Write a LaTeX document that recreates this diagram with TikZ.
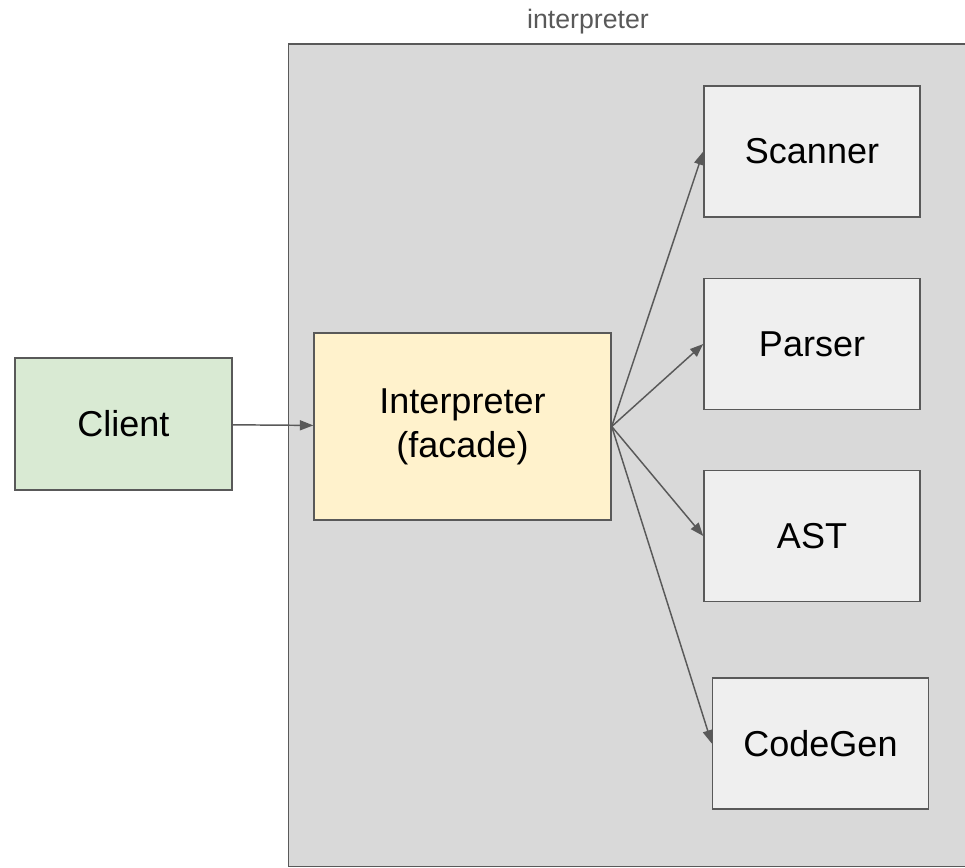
\documentclass[tikz,border=0pt]{standalone}
\usepackage{fontspec}
\setmainfont{Liberation Sans}
\usetikzlibrary{arrows.meta}
\definecolor{grisB}{HTML}{595959}
\definecolor{grisFondo}{HTML}{D9D9D9}
\definecolor{grisCaja}{HTML}{EFEFEF}
\definecolor{verdeC}{HTML}{D9EAD3}
\definecolor{amarilloF}{HTML}{FFF2CC}

\begin{document}
\begin{tikzpicture}[x=0.75pt,y=-0.75pt,
    caja/.style={draw=grisB,line width=1.1pt,align=center,inner sep=0pt,
      font=\fontsize{27}{33}\selectfont},
    flecha/.style={draw=grisB,line width=1.1pt,-{Triangle[length=10pt,width=7.5pt]}}]
    % marco
    \clip (0,0) rectangle (965,868);
    \fill[white] (0,0) rectangle (965,868);
    \draw[grisB,line width=1.1pt,fill=grisFondo] (288.5,44) rectangle (980,866.5);
    \node[text=grisB,font=\fontsize{20}{24}\selectfont] (etiqueta) at (588,22) {interpreter};
    % cajas
    \node[caja,fill=verdeC,minimum width=162.75pt,minimum height=99pt] (client) at (123.5,424) {Client};
    \node[caja,fill=amarilloF,minimum width=222.75pt,minimum height=140.25pt] (facade) at (462.5,426.5)
      {Interpreter\\(facade)};
    \node[caja,fill=grisCaja,minimum width=162pt,minimum height=98.5pt] (scanner) at (812,151.5) {Scanner};
    \node[caja,fill=grisCaja,minimum width=162pt,minimum height=98.5pt] (parser) at (812,344) {Parser};
    \node[caja,fill=grisCaja,minimum width=162pt,minimum height=98.5pt] (ast) at (812,536) {AST};
    \node[caja,fill=grisCaja,minimum width=162pt,minimum height=98.5pt] (codegen) at (820.5,743.5) {CodeGen};
    % flechas
    \draw[flecha] (client) -- (facade);
    \foreach \destino in {scanner,parser,ast,codegen}
      \draw[flecha] (facade.east) -- (\destino.west);
  \end{tikzpicture}
\end{document}
